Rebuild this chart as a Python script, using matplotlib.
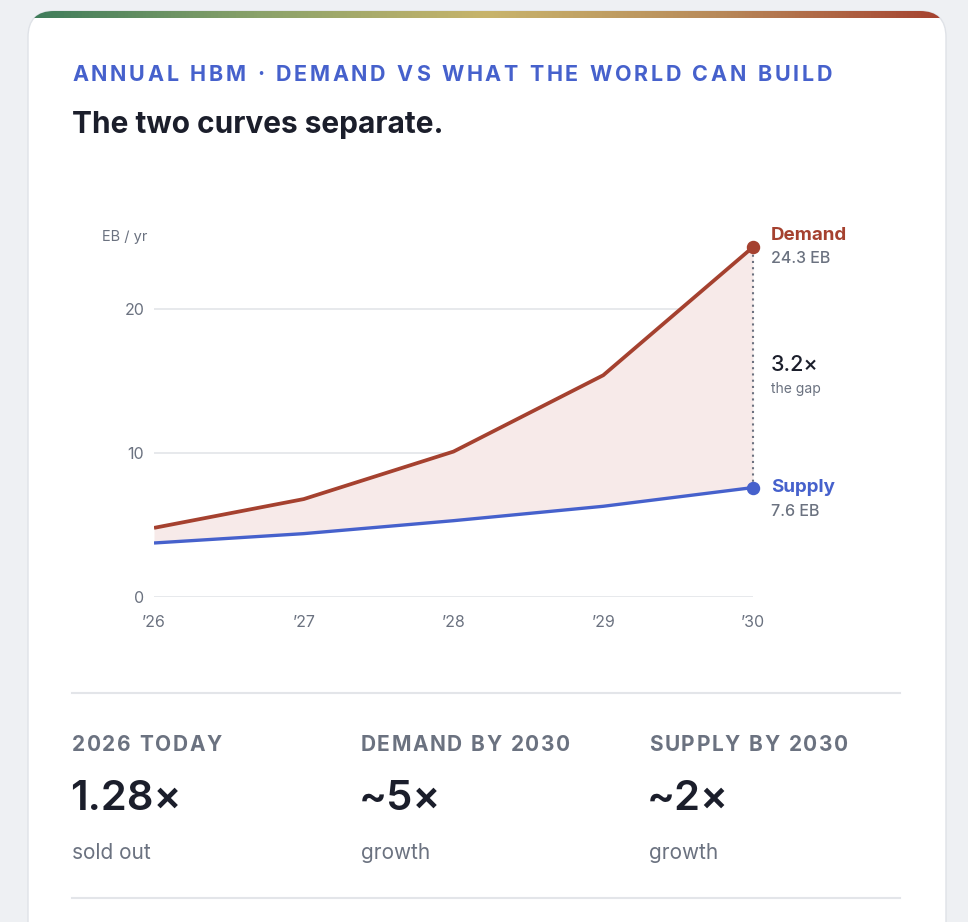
import matplotlib
matplotlib.use("Agg")
import matplotlib.pyplot as plt
import numpy as np
from matplotlib.patches import FancyBboxPatch

# --- DATA ---
jahre = [2026, 2027, 2028, 2029, 2030]
jahr_labels = ["\u201926", "\u201927", "\u201928", "\u201929", "\u201930"]
demand = [4.8, 6.8, 10.1, 15.4, 24.3]
supply = [3.75, 4.4, 5.3, 6.3, 7.6]
y_ticks = [0, 10, 20]

stat_titles = ["2026 TODAY", "DEMAND BY 2030", "SUPPLY BY 2030"]
stat_values = ["1.28\u00d7", "~5\u00d7", "~2\u00d7"]
stat_notes = ["sold out", "growth", "growth"]

# --- FARBEN ---
BG = "#eef0f3"
BLUE = "#4661cc"
RED = "#a5412f"
GRAY = "#6b7280"
DARK = "#1b1e2b"
FILL = "#f7eae9"
GRID = "#e3e5e9"

W, H = 968, 922
plt.rcParams["font.family"] = ["Inter", "DejaVu Sans"]

fig = plt.figure(figsize=(W / 100, H / 100), dpi=100, facecolor=BG)

# Overlay in Pixel-Koordinaten (y nach unten)
bg = fig.add_axes([0, 0, 1, 1], zorder=0)
bg.set_xlim(0, W)
bg.set_ylim(H, 0)
bg.axis("off")

card = FancyBboxPatch((28, 11), 918, 1000, boxstyle="round,pad=0,rounding_size=26",
                      facecolor="white", edgecolor="#dfe2e7", linewidth=1.0)
bg.add_patch(card)

# Farbverlauf oben an der Karte
grad = np.linspace(0, 1, 256)[None, :]
cmap = matplotlib.colors.LinearSegmentedColormap.from_list(
    "bar", ["#3d7b5a", "#8aa26a", "#c8b46c", "#b88a5a", "#a5412f"])
img = bg.imshow(grad, extent=(28, 946, 18, 11), cmap=cmap, aspect="auto", zorder=2)
img.set_clip_path(card)
bg.set_xlim(0, W)
bg.set_ylim(H, 0)

renderer = fig.canvas.get_renderer()


def spaced_text(x, y, s, spacing, **kw):
    # Text mit Buchstabenabstand, Zeichen fuer Zeichen
    for ch in s:
        if ch == " ":
            x += kw.get("fontsize", 12) * 1.389 * 0.28 + spacing
            continue
        t = bg.text(x, y, ch, va="baseline", ha="left", **kw)
        w = t.get_window_extent(renderer=renderer).width
        x += w + spacing


spaced_text(72, 81, "ANNUAL HBM \u00b7 DEMAND VS WHAT THE WORLD CAN BUILD", 2.7,
            fontsize=15.5, fontweight="bold", color=BLUE)
bg.text(72, 133, "The two curves separate.", fontsize=21.5, fontweight="bold",
        color=DARK, va="baseline")
bg.text(102, 237, "EB / yr", fontsize=10.5, color=GRAY, va="center")

# Trennlinien
bg.plot([72, 900], [693, 693], color=GRID, lw=1.5)
bg.plot([72, 900], [898, 898], color=GRID, lw=1.5)

# Kennzahlen unten
for i, (t, v, n) in enumerate(zip(stat_titles, stat_values, stat_notes)):
    x0 = 72 + i * 288.5
    spaced_text(x0, 751, t, 1.6, fontsize=15, fontweight="bold", color=GRAY)
    bg.text(x0 - 2, 810, v, fontsize=30, fontweight="semibold", color=DARK, va="baseline")
    bg.text(x0, 859, n, fontsize=15, color=GRAY, va="baseline")

# --- DIAGRAMM ---
x_left, x_right = 154, 753
y0_px, px_per_unit = 597, 14.4
ymax = 25
ax = fig.add_axes([x_left / W, (H - y0_px) / H, (x_right - x_left) / W,
                   ymax * px_per_unit / H], zorder=1)
ax.set_facecolor("none")
ax.set_xlim(jahre[0], jahre[-1])
ax.set_ylim(0, ymax)
for s in ax.spines.values():
    s.set_visible(False)

for yt in y_ticks:
    ax.axhline(yt, color=GRID, lw=1.2, zorder=0)

ax.fill_between(jahre, supply, demand, color=FILL, lw=0, zorder=1)
ax.plot(jahre, demand, color=RED, lw=2.7, solid_capstyle="butt", zorder=3)
ax.plot(jahre, supply, color=BLUE, lw=2.4, solid_capstyle="butt", zorder=3)
ax.plot([jahre[-1], jahre[-1]], [supply[-1], demand[-1]], color=GRAY, lw=1.5,
        linestyle=(0, (1, 2)), zorder=2, clip_on=False)
ax.scatter([jahre[-1]], [demand[-1]], s=75, color=RED, zorder=4, clip_on=False)
ax.scatter([jahre[-1]], [supply[-1]], s=75, color=BLUE, zorder=4, clip_on=False)

ax.set_xticks(jahre)
ax.set_xticklabels(jahr_labels)
ax.set_yticks(y_ticks)
ax.tick_params(length=0, labelsize=11.5, labelcolor=GRAY)
ax.tick_params(axis="x", pad=13)
ax.tick_params(axis="y", pad=7)

# Beschriftungen rechts
ratio = demand[-1] / supply[-1]
ax.annotate("Demand", (jahre[-1], demand[-1]), xytext=(13, 8), textcoords="offset points",
            fontsize=13.5, fontweight="bold", color=RED, va="center", annotation_clip=False)
ax.annotate(f"{demand[-1]:.1f} EB", (jahre[-1], demand[-1]), xytext=(13, -8),
            textcoords="offset points", fontsize=11.5, fontweight="medium", color=GRAY,
            va="center", annotation_clip=False)
ax.annotate("Supply", (jahre[-1], supply[-1]), xytext=(13, 0), textcoords="offset points",
            fontsize=13.5, fontweight="bold", color=BLUE, va="center", annotation_clip=False)
ax.annotate(f"{supply[-1]:.1f} EB", (jahre[-1], supply[-1]), xytext=(13, -17),
            textcoords="offset points", fontsize=11.5, fontweight="medium", color=GRAY,
            va="center", annotation_clip=False)
mid = (597 - 365) / px_per_unit
ax.annotate(f"{ratio:.1f}\u00d7", (jahre[-1], mid), xytext=(13, 0), textcoords="offset points",
            fontsize=15.5, fontweight="medium", color=DARK, va="center", annotation_clip=False)
ax.annotate("the gap", (jahre[-1], mid), xytext=(13, -17), textcoords="offset points",
            fontsize=10, color=GRAY, va="center", annotation_clip=False)

fig.savefig("out.png", dpi=100, facecolor=BG)
